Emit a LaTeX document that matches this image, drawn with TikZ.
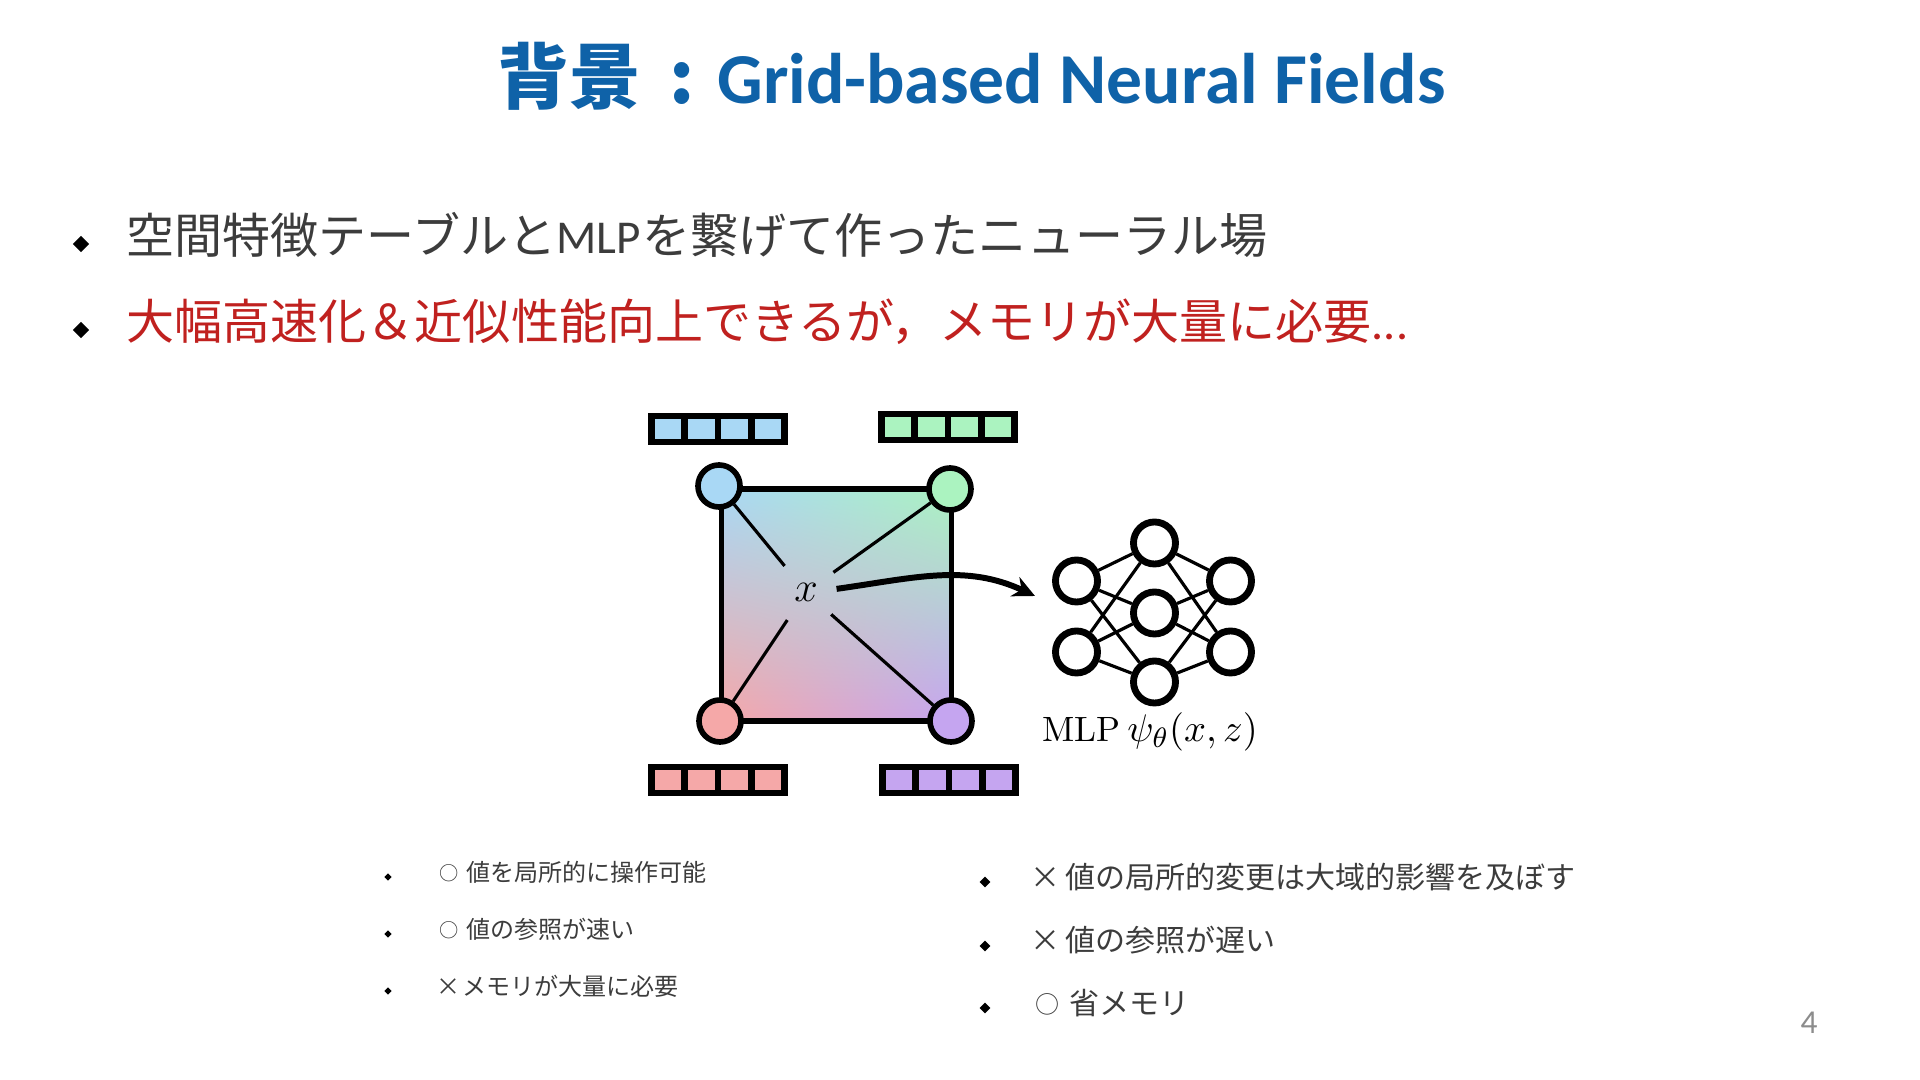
\documentclass[tikz,border=0pt]{standalone}
\usepackage{amsmath,amssymb}
\usepackage{fontspec}
\setmainfont{Carlito}
\newfontfamily\cjk{Noto Sans CJK JP}
\newfontfamily\lmr{Latin Modern Roman}
\usepackage{xcolor}
\usepackage{tikz}
\usetikzlibrary{arrows.meta,positioning,shapes.geometric,shadings}
\definecolor{titleblue}{HTML}{0F62A8}
\definecolor{bodygray}{HTML}{3C3C3C}
\definecolor{alertred}{HTML}{C0211F}
\definecolor{pagegray}{HTML}{8C8C8C}
\definecolor{cblue}{HTML}{A9D8F5}
\definecolor{cgreen}{HTML}{ABF3C0}
\definecolor{cred}{HTML}{F5A8A8}
\definecolor{cpurple}{HTML}{C5A5F0}
\newcommand{\okmark}{\raisebox{.5pt}{\scalebox{.8}{○}}}

\begin{document}
\begin{tikzpicture}[x=0.01cm,y=-0.01cm,
  txt/.style={anchor=base west,inner sep=0pt},
  bigline/.style={txt,font=\cjk\fontsize{13.66}{16}\selectfont},
  smallline/.style={txt,font=\cjk\fontsize{6.83}{8}\selectfont,text=bodygray},
  midline/.style={txt,font=\cjk\fontsize{8.54}{10}\selectfont,text=bodygray},
  bullet/.style={diamond,fill=black,inner sep=0pt,minimum width=#1,minimum height=#1},
  corner/.style={circle,draw=black,line width=1.6pt,fill=#1,minimum size=0.42cm,inner sep=0pt},
  cell/.style={rectangle,draw=black,line width=1.95pt,fill=#1,minimum width=0.334cm,minimum height=0.26cm,inner sep=0pt},
  neuron/.style={circle,draw=black,line width=1.95pt,fill=white,minimum size=0.42cm,inner sep=0pt},
  link/.style={line width=0.9pt,black},
  flow/.style={-{Stealth[length=2.2mm,width=2.1mm]},line width=1.7pt,black}]
\useasboundingbox (0,0) rectangle (1920,1080);
% title and top lines
\node[txt,font=\fontsize{20.37}{24}\selectfont\bfseries,text=titleblue] (title) at (497,104) {{\cjk 背景\hspace{8.2pt}:}\hspace{6.4pt}Grid-based Neural Fields};
\node[bullet=0.17cm] (b1) at (81,244) {};
\node[bullet=0.17cm] (b2) at (81,330) {};
\node[bigline,text=bodygray] (l1) at (126,254) {空間特徴テーブルと{\rmfamily\fontsize{13.4}{16}\selectfont MLP}\hspace{.6pt}を繋げて作ったニューラル場};
\node[bigline,text=alertred] (l2) at (126,340) {大幅高速化＆近似性能向上できるが，メモリが大量に必要{\rmfamily ...}};
% grid and corners
\node[rectangle,draw=black,line width=1.6pt,minimum width=2.3cm,minimum height=2.32cm,inner sep=0pt,
  shading=bilinear interpolation,upper left=cblue,upper right=cgreen,lower left=cred,lower right=cpurple] (grid) at (836.5,605) {};
\node[circle,inner sep=0pt,minimum size=0.66cm,font=\fontsize{12}{14}\selectfont] (x) at (806,592) {$x$};
\node[corner=cblue] (tl) at (719,486) {};
\node[corner=cgreen] (tr) at (950,489) {};
\node[corner=cred] (bl) at (720,721) {};
\node[corner=cpurple] (br) at (951,721) {};
\foreach \c in {tl,tr,bl,br} \draw[link] (x) -- (\c);
% feature bars
\foreach \n/\u/\v/\f in {ba/718/429/cblue,bb/948/427/cgreen,bc/718/780/cred,bd/949/780/cpurple}
  \foreach \k in {0,...,3}
    \node[cell=\f] (\n\k) at ({\u+(\k-1.5)*33.4},\v) {};
% network
\foreach \n/\u/\v in {la/1076.5/581,lb/1076.5/652,ma/1154.5/543,mb/1154.5/613,mc/1154.5/682,ra/1230.5/581,rb/1230.5/652}
  \node[neuron] (\n) at (\u,\v) {};
\foreach \a in {la,lb} \foreach \b in {ma,mb,mc} \draw[link] (\a) -- (\b);
\foreach \a in {ma,mb,mc} \foreach \b in {ra,rb} \draw[link] (\a) -- (\b);
\node[font=\fontsize{10.95}{13}\selectfont,inner sep=0pt] (mlp) at (1150,732) {{\lmr\fontsize{10}{12}\selectfont MLP}\hspace{2pt}$\psi_{\theta}(x,z)$};
\coordinate (flowend) at (1035,596);
\draw[flow,shorten <=-0.03cm] (x.6) to[out=8,in=155] (flowend);
% lists
\foreach \n/\v in {sa/877,sb/934,sc/991} \node[bullet=0.08cm] (\n) at (388,\v) {};
\node[smallline] (ta) at (438.5,882) {\okmark\hspace{2.3pt}値を局所的に操作可能};
\node[smallline] (tb) at (438.5,939) {\okmark\hspace{2.3pt}値の参照が速い};
\node[smallline] (tc) at (436,996) {×\hspace{.5pt}メモリが大量に必要};
\foreach \n/\v in {sd/882,se/946,sf/1008} \node[bullet=0.115cm] (\n) at (985,\v) {};
\node[midline] (td) at (1030,889) {×\hspace{1.3pt}値の局所的変更は大域的影響を及ぼす};
\node[midline] (te) at (1030,952) {×\hspace{1.3pt}値の参照が遅い};
\node[midline] (tf) at (1035,1015) {\okmark\hspace{2.8pt}省メモリ};
\node[txt,font=\fontsize{9.5}{11}\selectfont,text=pagegray] (page) at (1800,1034) {4};
\end{tikzpicture}
\end{document}
